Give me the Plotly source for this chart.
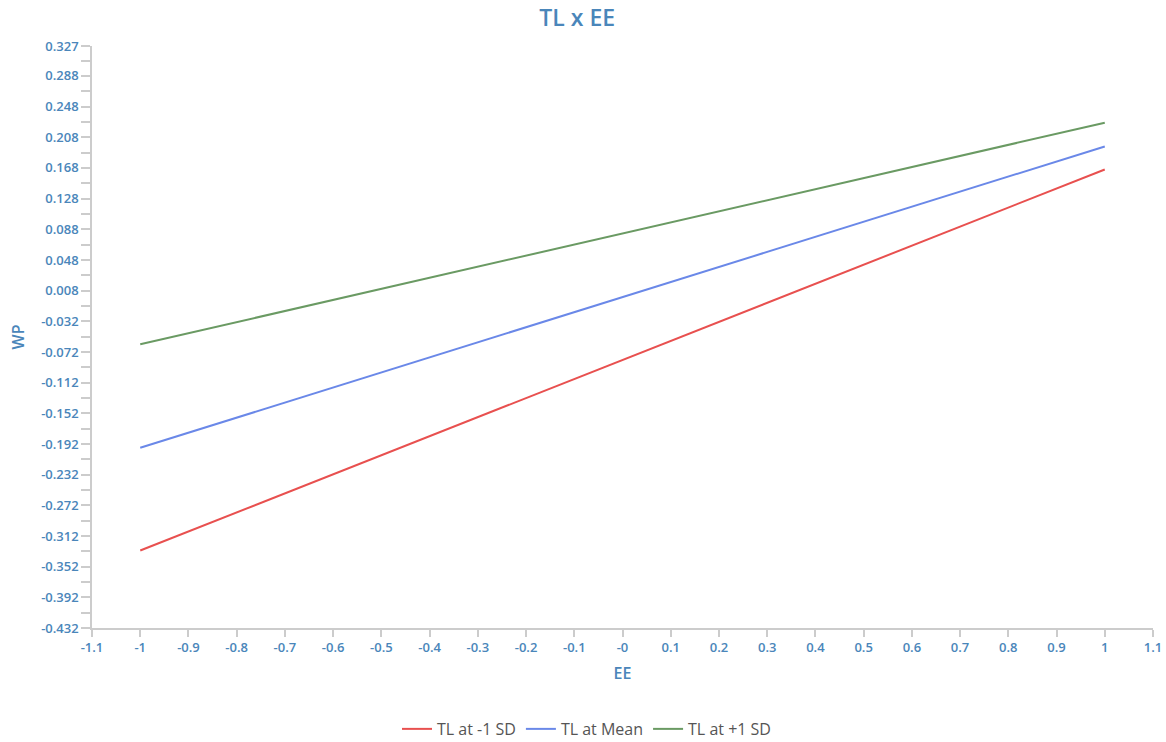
import plotly.graph_objects as go

# Simple slopes of WP on EE at three levels of TL
ee = [-1, 1]
series_names = ["TL at -1 SD", "TL at Mean", "TL at +1 SD"]
wp_low = [-0.331, 0.166]
wp_mean = [-0.197, 0.196]
wp_high = [-0.062, 0.227]
colors = ["#E8504F", "#6A88E8", "#6A9A63"]

x_ticks = [round(-1.1 + 0.1 * i, 1) for i in range(23)]
x_labels = ["-0" if abs(v) < 1e-9 else f"{v:g}" for v in x_ticks]
y_ticks = [round(-0.432 + 0.04 * i, 3) for i in range(19)] + [0.327]
y_labels = [f"{v:.3f}" for v in y_ticks]

label_color = "#4A86BA"
axis_color = "#CCCCCC"
font_family = "Open Sans, Noto Sans, sans-serif"

fig = go.Figure()
for name, ys, c in zip(series_names, [wp_low, wp_mean, wp_high], colors):
    fig.add_trace(go.Scatter(x=ee, y=ys, mode="lines", name=name,
                             line=dict(color=c, width=2)))

fig.update_layout(
    width=1166, height=742,
    paper_bgcolor="white", plot_bgcolor="white",
    margin=dict(l=92, r=13, t=46, b=114, autoexpand=False),
    font=dict(family=font_family, color=label_color, size=12),
    title=dict(text="TL x EE", x=0.495, xanchor="center", y=0.976, yanchor="middle",
               font=dict(size=23, color=label_color, family=font_family, weight=600)),
    showlegend=True,
    legend=dict(orientation="h", xref="container", x=0.503, xanchor="center",
                y=-0.1735, yanchor="middle",
                font=dict(size=16, color="#555555"), itemwidth=30),
)

fig.update_xaxes(
    range=[-1.1, 1.1], tickmode="array", tickvals=x_ticks, ticktext=x_labels,
    showgrid=False, zeroline=False, showline=True, linecolor=axis_color, linewidth=1.5,
    ticks="outside", ticklen=7, tickcolor=axis_color, tickwidth=1.5,
    tickfont=dict(size=13, color=label_color, weight=600),
    automargin=False,
    title=dict(text="EE", font=dict(size=16, color=label_color, weight=600), standoff=12),
)
fig.update_yaxes(
    range=[-0.432, 0.327], tickmode="array", tickvals=y_ticks, ticktext=y_labels,
    showgrid=False, zeroline=False, showline=True, linecolor=axis_color, linewidth=1.5,
    ticks="outside", ticklen=9, tickcolor=axis_color, tickwidth=1.5,
    tickfont=dict(size=13, color=label_color, weight=600),
    minor=dict(tickmode="linear", tick0=-0.412, dtick=0.04, ticks="outside",
               ticklen=9, tickcolor=axis_color, tickwidth=1.5, showgrid=False),
    automargin=False,
    title=dict(text="WP", font=dict(size=16, color=label_color, weight=600), standoff=13),
)

fig.write_html("out.html")
